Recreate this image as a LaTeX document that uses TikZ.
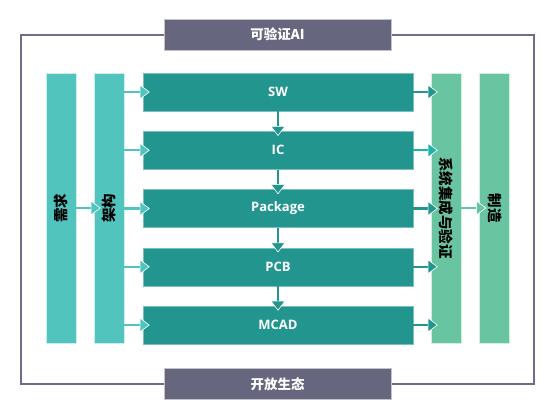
\documentclass[tikz,border=0pt]{standalone}
\usepackage{fontspec}
\setmainfont{Open Sans}
\newfontfamily\cjk{Noto Sans CJK SC}
\usetikzlibrary{arrows.meta,positioning}
\definecolor{slate}{RGB}{102,102,126}
\definecolor{framegray}{RGB}{110,110,135}
\definecolor{turq}{RGB}{82,196,190}
\definecolor{deepteal}{RGB}{35,149,143}
\definecolor{brightteal}{RGB}{29,179,171}
\definecolor{mint}{RGB}{105,197,161}

\begin{document}
\begin{tikzpicture}[x=1pt, y=-1pt,
  block/.style={fill=deepteal, draw=deepteal!60!white, line width=0.5pt,
    minimum width=270pt, minimum height=38pt, inner sep=0pt,
    text=white, font=\fontsize{13}{15}\selectfont\bfseries},
  column/.style={draw=white!70!#1, fill=#1, line width=0.5pt,
    minimum width=30pt, minimum height=270pt, inner sep=0pt,
    font=\fontsize{14.5}{16}\selectfont\cjk\bfseries},
  banner/.style={fill=slate, draw=slate!40!white, line width=0.8pt,
    minimum width=227pt, minimum height=31pt, inner sep=0pt,
    text=white, font=\fontsize{13.5}{15}\selectfont\cjk\bfseries},
  flow/.style={line width=2.4pt, draw=#1, shorten >=-7pt,
    -{Triangle[length=10pt, width=15pt, color=white, fill=#1, line width=0.6pt]}}]
  \useasboundingbox (0,0) rectangle (554,420);

  % outer frame
  \draw[framegray, line width=2pt] (21,35) rectangle (534,384);
  \node[banner] (verify) at (277.5,34.5) {可验证AI};
  \node[banner] (eco) at (277.5,384) {开放生态};

  % left and right columns
  \node[column=turq] (xuqiu) at (61,208) {\rotatebox{90}{需求}};
  \node[column=turq] (jiagou) at (109,208) {\rotatebox{90}{架构}};
  \node[column=mint] (jicheng) at (446,208) {\rotatebox{-90}{系统集成与验证}};
  \node[column=mint] (zhizao) at (494.5,208) {\rotatebox{-90}{制造}};

  % design blocks
  \foreach \name/\txt [count=\i from 0] in {sw/SW, ic/IC, pkg/Package, pcb/PCB, mcad/MCAD} {
    \node[block] (\name) at (278,92+58.25*\i) {\txt};
  }

  % arrows
  \draw[flow=turq] (xuqiu.east) -- (jiagou.west);
  \draw[flow=mint] (jicheng.east) -- (zhizao.west);
  \foreach \name/\col in {sw/deepteal, ic/brightteal, pkg/deepteal, pcb/deepteal, mcad/deepteal} {
    \draw[flow=turq] (jiagou.east |- \name.west) -- (\name.west);
    \draw[flow=\col] (\name.east) -- (jicheng.west |- \name.east);
  }
  \foreach \a/\b in {sw/ic, ic/pkg, pkg/pcb, pcb/mcad} {
    \draw[flow=deepteal, shorten >=-5pt] (\a.south) -- (\b.north);
  }
\end{tikzpicture}
\end{document}
